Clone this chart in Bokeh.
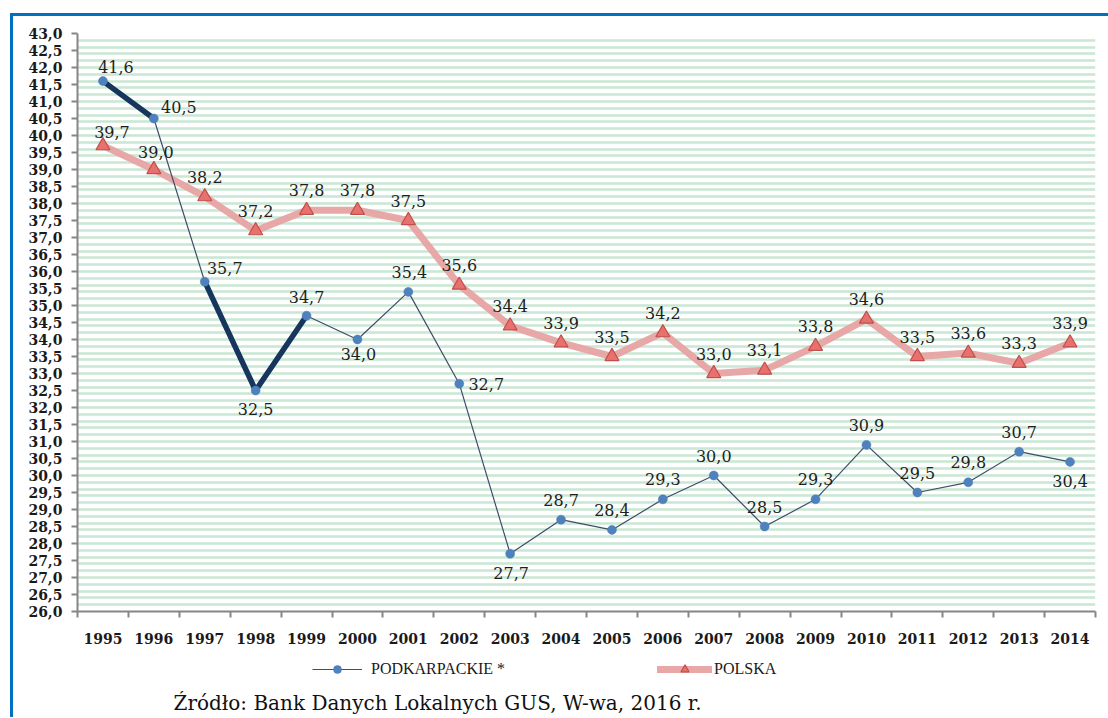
from bokeh.plotting import figure
from bokeh.layouts import column
from bokeh.models import (Range1d, FixedTicker, CustomJSTickFormatter, ColumnDataSource,
                          Legend, LegendItem, Label)
from bokeh.core.properties import value
from bokeh.embed import file_html
from bokeh.resources import INLINE

years = ["1995", "1996", "1997", "1998", "1999", "2000", "2001", "2002", "2003", "2004",
         "2005", "2006", "2007", "2008", "2009", "2010", "2011", "2012", "2013", "2014"]
podkarpackie = [41.6, 40.5, 35.7, 32.5, 34.7, 34.0, 35.4, 32.7, 27.7, 28.7,
                28.4, 29.3, 30.0, 28.5, 29.3, 30.9, 29.5, 29.8, 30.7, 30.4]
polska = [39.7, 39.0, 38.2, 37.2, 37.8, 37.8, 37.5, 35.6, 34.4, 33.9,
          33.5, 34.2, 33.0, 33.1, 33.8, 34.6, 33.5, 33.6, 33.3, 33.9]
series_names = ["PODKARPACKIE *", "POLSKA"]
source_text = "Źródło: Bank Danych Lokalnych GUS, W-wa, 2016 r."
# segments (start index) of the Podkarpackie series drawn with a thick line
thick_segments = [0, 2, 3]
y_ticks = [26.0 + 0.5 * k for k in range(35)]

# label placement (pixel offsets, style only)
pod_dx = [13, 25, 20, 0, 0, 1, 1, 27, 1, 0, 0, 0, 0, 0, 0, 0, 0, 0, 0, 0]
pod_dy = [-14, -12, -14, 18, -19, 14, -20, 0, 19, -20, -20, -20, -20, -20, -20, -20, -20, -20, -20, 19]
pol_dx = [9, 2] + [0] * 18
pol_dy = [-14, -18] + [-20] * 18

FONT = "DejaVu Serif"
W = 1095

POD_LINE = dict(line_color="#3e4d6a", line_width=1.2)
POD_MARK = dict(marker="circle", size=9, fill_color="#4f81bd", line_color="#4a7ab8", line_width=0.5)
POL_LINE = dict(line_color="#e8a3a3", line_width=7, line_alpha=0.95, line_join="round", line_cap="round")
POL_MARK = dict(marker="triangle", size=14, fill_color="#e8716e", line_color="#c0504d", line_width=1.2)

xs = [i + 0.5 for i in range(len(years))]

p = figure(width=W, height=640, x_range=Range1d(0, 20), y_range=Range1d(26, 43),
           output_backend="svg", toolbar_location=None,
           min_border_left=64, min_border_right=13, min_border_top=17, min_border_bottom=45)
p.outline_line_color = None
p.background_fill_color = "white"
p.border_fill_color = "white"

# striped background (grid)
p.xgrid.visible = False
p.ygrid.ticker = FixedTicker(ticks=[26.0 + 0.2 * k for k in range(86)])
p.ygrid.grid_line_color = "#c9e7d4"
p.ygrid.grid_line_width = 2.5

# axes
xa = p.xaxis[0]
xa.ticker = FixedTicker(ticks=xs, minor_ticks=list(range(21)))
xa.major_label_overrides = {x: y for x, y in zip(xs, years)}
xa.major_tick_line_color = None
xa.major_tick_out = 0
xa.minor_tick_out = 6
xa.minor_tick_in = 0
xa.minor_tick_line_color = "#868686"
xa.minor_tick_line_width = 2
xa.axis_line_color = "#868686"
xa.axis_line_width = 2
xa.major_label_standoff = 15
xa.major_label_text_font = FONT
xa.major_label_text_font_style = "bold"
xa.major_label_text_font_size = "14px"
xa.major_label_text_color = "#1a1a1a"

ya = p.yaxis[0]
ya.ticker = FixedTicker(ticks=y_ticks)
ya.formatter = CustomJSTickFormatter(code="return tick.toFixed(1).replace('.', ',')")
ya.minor_tick_line_color = None
ya.major_tick_out = 6
ya.major_tick_in = 0
ya.major_tick_line_color = "#868686"
ya.major_tick_line_width = 2
ya.axis_line_color = "#868686"
ya.axis_line_width = 2
ya.major_label_standoff = 9
ya.major_label_text_font = FONT
ya.major_label_text_font_style = "bold"
ya.major_label_text_font_size = "14px"
ya.major_label_text_color = "#1a1a1a"

# POLSKA
pol_src = ColumnDataSource(dict(x=xs, y=polska,
                                t=[f"{v:.1f}".replace(".", ",") for v in polska],
                                dx=pol_dx, dy=pol_dy))
p.line("x", "y", source=pol_src, **POL_LINE)
p.scatter("x", "y", source=pol_src, **POL_MARK)

# PODKARPACKIE
pod_src = ColumnDataSource(dict(x=xs, y=podkarpackie,
                                t=[f"{v:.1f}".replace(".", ",") for v in podkarpackie],
                                dx=pod_dx, dy=pod_dy))
p.line("x", "y", source=pod_src, **POD_LINE)
thick_xs = [[xs[i], xs[i + 1]] for i in thick_segments]
thick_ys = [[podkarpackie[i], podkarpackie[i + 1]] for i in thick_segments]
p.multi_line(thick_xs, thick_ys, line_color="#17365d", line_width=5.5, line_cap="round")
p.scatter("x", "y", source=pod_src, **POD_MARK)

# data labels
for src in (pol_src, pod_src):
    p.text("x", "y", text="t", source=src, x_offset="dx", y_offset="dy",
           text_align="center", text_baseline="middle",
           text_font=value(FONT), text_font_size="16px", text_color="#1e1e1e")

# bottom strip: legend + source note
H2 = 61
p2 = figure(width=W, height=H2, x_range=Range1d(0, W), y_range=Range1d(0, H2),
            x_axis_type=None, y_axis_type=None,
            output_backend="svg", toolbar_location=None,
            min_border=0, min_border_left=0, min_border_right=0, min_border_top=0, min_border_bottom=0)
p2.grid.visible = False
p2.outline_line_color = None
p2.background_fill_color = "white"
p2.border_fill_color = "white"

# legend sample renderers (kept outside the visible range)
l_pod = p2.line([-50, -40], [-50, -50], **POD_LINE)
m_pod = p2.scatter([-50], [-50], **POD_MARK)
l_pol = p2.line([-50, -40], [-50, -50], **POL_LINE)
m_pol = p2.scatter([-50], [-50], **POL_MARK)

lg_font = "Liberation Serif"
leg1 = Legend(items=[LegendItem(label=series_names[0], renderers=[l_pod, m_pod])],
              location=(235, 38), orientation="horizontal", glyph_width=50, glyph_height=20,
              padding=0, margin=0, border_line_color=None, background_fill_alpha=0,
              label_standoff=9, label_text_font=lg_font, label_text_font_size="16px",
              label_text_color="#1a1a1a", label_height=20)
leg2 = Legend(items=[LegendItem(label=series_names[1], renderers=[l_pol, m_pol])],
              location=(580, 38), orientation="horizontal", glyph_width=55, glyph_height=20,
              padding=0, margin=0, border_line_color=None, background_fill_alpha=0,
              label_standoff=2, label_text_font=lg_font, label_text_font_size="16px",
              label_text_color="#1a1a1a", label_height=20)
p2.add_layout(leg1)
p2.add_layout(leg2)

src_label = Label(x=96, y=15, x_units="screen", y_units="screen", text=source_text,
                  text_font=FONT, text_font_size="20px", text_color="#111111",
                  text_baseline="alphabetic")
p2.add_layout(src_label)

layout = column(p, p2, spacing=0,
                styles={"border-top": "3px solid #0070c0", "border-left": "3px solid #0070c0",
                        "margin-left": "10px", "margin-top": "13px"})

open("out.html", "w").write(file_html(layout, INLINE))
